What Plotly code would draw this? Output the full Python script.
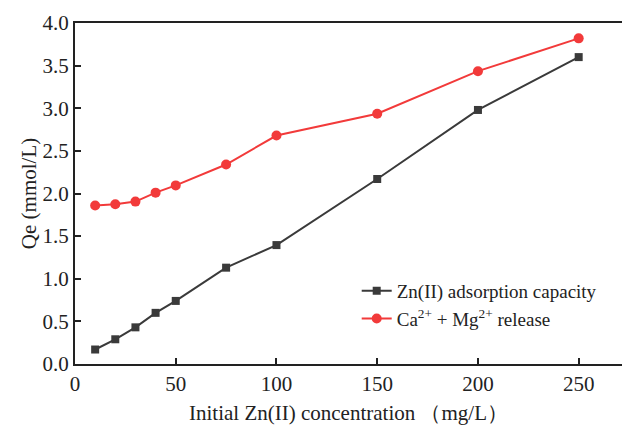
import plotly.graph_objects as go

conc = [10, 20, 30, 40, 50, 75, 100, 150, 200, 250]
zn_adsorption = [0.17, 0.29, 0.43, 0.60, 0.74, 1.13, 1.395, 2.17, 2.98, 3.60]
ca_mg_release = [1.86, 1.873, 1.905, 2.01, 2.095, 2.34, 2.68, 2.935, 3.435, 3.82]

x_ticks = [0, 50, 100, 150, 200, 250]
y_ticks = [0.0, 0.5, 1.0, 1.5, 2.0, 2.5, 3.0, 3.5, 4.0]

font = "Liberation Serif, Times New Roman, serif"

fig = go.Figure()
fig.add_trace(go.Scatter(
    x=conc, y=zn_adsorption, mode="lines+markers",
    name="Zn(II) adsorption capacity",
    line=dict(color="#3a3a3a", width=2),
    marker=dict(symbol="square", size=8, color="#3a3a3a"),
))
fig.add_trace(go.Scatter(
    x=conc, y=ca_mg_release, mode="lines+markers",
    name="Ca<sup>2+</sup> + Mg<sup>2+</sup> release",
    line=dict(color="#f23a3a", width=2),
    marker=dict(symbol="circle", size=10, color="#f23a3a"),
))

fig.update_layout(
    width=622, height=428,
    margin=dict(l=75, r=0, t=23, b=64),
    paper_bgcolor="white", plot_bgcolor="white",
    font=dict(family=font, size=20, color="#222"),
    showlegend=True,
    legend=dict(x=0.515, y=0.27, xanchor="left", yanchor="top",
                bgcolor="rgba(0,0,0,0)", font=dict(size=19, family=font),
                tracegroupgap=0, itemwidth=30),
    xaxis=dict(range=[0, 271.5], tickvals=x_ticks, ticks="inside", ticklen=6,
               tickwidth=1.5, tickcolor="#222", showline=True, linecolor="#222",
               linewidth=2, mirror=True, showgrid=False, zeroline=False,
               tickfont=dict(size=21, family=font),
               title=dict(text="Initial Zn(II) concentration （mg/L）", standoff=10,
                          font=dict(size=21, family=font))),
    yaxis=dict(range=[0, 4.0], tickvals=y_ticks, tickformat=".1f", ticks="inside",
               ticklen=6, tickwidth=1.5, tickcolor="#222", showline=True,
               linecolor="#222", linewidth=2, mirror=False, showgrid=False,
               zeroline=False, tickfont=dict(size=21, family=font),
               title=dict(text="Qe (mmol/L)", standoff=0,
                          font=dict(size=21, family=font))),
)

fig.write_html("out.html")
